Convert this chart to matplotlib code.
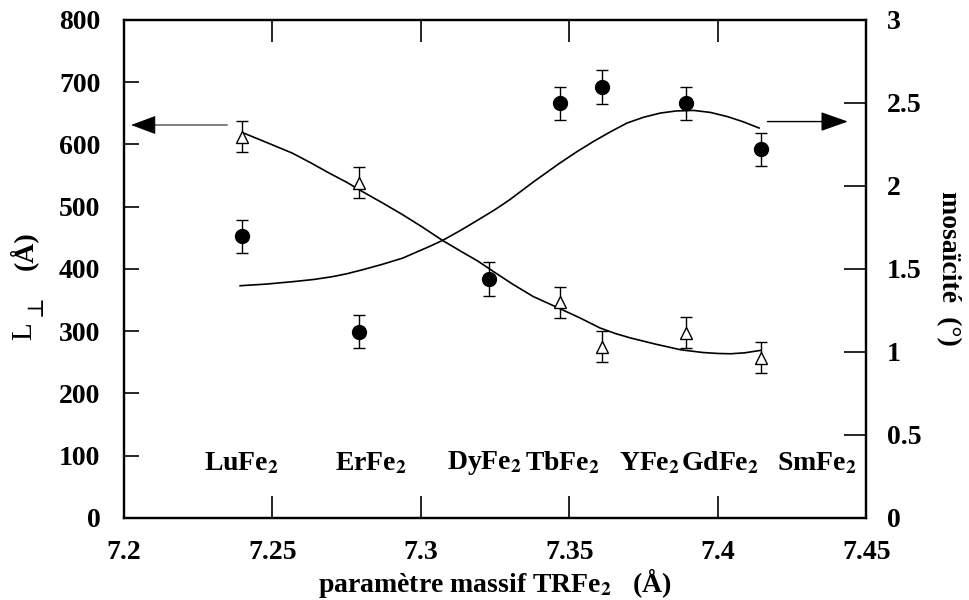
import matplotlib
matplotlib.use('Agg')
import matplotlib.pyplot as plt

plt.rcParams['font.family'] = ['Liberation Serif', 'DejaVu Serif']
plt.rcParams['font.weight'] = 'bold'
plt.rcParams['mathtext.fontset'] = 'stix'

# lattice parameter of each TRFe2 film (Å)
x_pts = [7.2397, 7.2792, 7.3229, 7.3468, 7.3611, 7.3892, 7.4145]

# L_perp (Å), open triangles, left axis  (DyFe2 point hidden under circle)
tri_x = [7.2397, 7.2792, 7.3468, 7.3611, 7.3892, 7.4145]
tri_y = [612, 538, 346, 275, 297, 257]
tri_err = [25, 25, 25, 25, 25, 25]

# mosaicity (deg), filled circles, right axis
circ_y = [1.695, 1.122, 1.438, 2.498, 2.595, 2.498, 2.221]
circ_err = [0.1, 0.1, 0.1, 0.1, 0.1, 0.1, 0.1]

# fitted curves
fit_l_x = [7.2403, 7.2480, 7.2566, 7.2630, 7.269, 7.2750, 7.2803, 7.2870, 7.2938,
           7.3005, 7.3073, 7.3135, 7.3193, 7.3243, 7.3310, 7.3378, 7.3468, 7.3536,
           7.3603, 7.3655, 7.3705, 7.3790, 7.3874, 7.3950, 7.4000, 7.4043, 7.4090,
           7.4145]
fit_l_y = [618, 603, 586, 570, 554, 539, 524, 506, 487,
           467, 445.5, 428, 412, 396, 375, 355.5, 336, 321,
           305, 296, 289, 279, 270, 265.5, 264, 263.5, 265,
           269]
fit_m_x = [7.2391, 7.2480, 7.2577, 7.2640, 7.2700, 7.2750, 7.2803, 7.2870, 7.2938,
           7.3028, 7.3073, 7.3135, 7.3193, 7.3250, 7.3299, 7.3380, 7.3468, 7.3525,
           7.3581, 7.3640, 7.3694, 7.3750, 7.3806, 7.3860, 7.3919, 7.3975, 7.4032,
           7.4085, 7.4139]
fit_m_y = [1.398, 1.408, 1.424, 1.436, 1.452, 1.470, 1.494, 1.527, 1.564,
           1.634, 1.671, 1.733, 1.795, 1.857, 1.916, 2.025, 2.137, 2.205,
           2.267, 2.327, 2.378, 2.413, 2.438, 2.451, 2.454, 2.442, 2.417,
           2.386, 2.348]

names = ['LuFe$_\\mathbf{2}$', 'ErFe$_\\mathbf{2}$', 'DyFe$_\\mathbf{2}$', 'TbFe$_\\mathbf{2}$',
         'YFe$_\\mathbf{2}$', 'GdFe$_\\mathbf{2}$', 'SmFe$_\\mathbf{2}$']
name_x = [7.2397, 7.2831, 7.3214, 7.3477, 7.3769, 7.4006, 7.4334]
name_y = 88

fs = 20
fig = plt.figure(figsize=(9.69, 6), dpi=100)
ax1 = fig.add_axes([0.128, 0.137, 0.766, 0.830])
ax2 = ax1.twinx()

# left axis: L_perp
ax1.plot(fit_l_x, fit_l_y, color='black', lw=1.2, zorder=2)
ax1.errorbar(tri_x, tri_y, yerr=tri_err, fmt='^', ms=9, mfc='white', mec='black',
             mew=1.0, ecolor='black', elinewidth=1.0, capsize=4, capthick=1.0, zorder=3)
for n, nx in zip(names, name_x):
    ax1.text(nx, name_y, n, ha='center', va='center', fontsize=fs, fontweight='bold')
ax1.annotate('', xy=(7.2024, 631), xytext=(7.2348, 631),
             arrowprops=dict(arrowstyle='-|>,head_length=1.6,head_width=0.6',
                             lw=0.7, color='black', shrinkA=0, shrinkB=0))

# right axis: mosaicity
ax2.plot(fit_m_x, fit_m_y, color='black', lw=1.2, zorder=2)
ax2.errorbar(x_pts, circ_y, yerr=circ_err, fmt='o', ms=10, mfc='black', mec='black',
             ecolor='black', elinewidth=1.0, capsize=4, capthick=1.0, zorder=3)
ax2.annotate('', xy=(7.4438, 2.387), xytext=(7.4167, 2.387),
             arrowprops=dict(arrowstyle='-|>,head_length=1.7,head_width=0.6',
                             lw=1.0, color='black', shrinkA=0, shrinkB=0))

ax1.set_xlim(7.2, 7.45)
ax1.set_ylim(0, 800)
ax2.set_ylim(0, 3)
ax1.set_xticks([7.2, 7.25, 7.3, 7.35, 7.4, 7.45])
ax1.set_xticklabels(['7.2', '7.25', '7.3', '7.35', '7.4', '7.45'])
ax1.set_yticks(range(0, 801, 100))
ax2.set_yticks([0, 0.5, 1, 1.5, 2, 2.5, 3])
ax2.set_yticklabels(['0', '0.5', '1', '1.5', '2', '2.5', '3'])

ax1.tick_params(axis='x', direction='in', length=16, width=1.2, top=True,
                labelsize=fs, pad=16)
ax1.tick_params(axis='y', direction='in', length=11, width=1.2, labelsize=fs, pad=17)
ax2.tick_params(axis='y', direction='in', length=16, width=1.2, labelsize=fs, pad=15)
for ax in (ax1, ax2):
    for s in ax.spines.values():
        s.set_linewidth(1.6)

ax1.set_xlabel('paramètre massif TRFe$_\\mathbf{2}$   (Å)', fontsize=fs, fontweight='bold',
               labelpad=1)
# left axis title  L⊥ (Å), built from pieces (⊥ as a lowered subscript)
fig.text(0.025, 0.448, 'L', rotation=90, fontsize=fs + 1, fontweight='normal',
         ha='center', va='center')
fig.text(0.037, 0.490, '⊥', rotation=90, fontsize=fs - 4, fontweight='normal',
         family='DejaVu Serif', ha='center', va='center')
fig.text(0.024, 0.583, '(Å)', rotation=90, fontsize=fs, fontweight='bold',
         ha='center', va='center')
ax2.set_ylabel('mosaïcité  (°)', fontsize=fs, fontweight='bold', rotation=270,
               labelpad=28)

fig.savefig('out.png', dpi=100)
